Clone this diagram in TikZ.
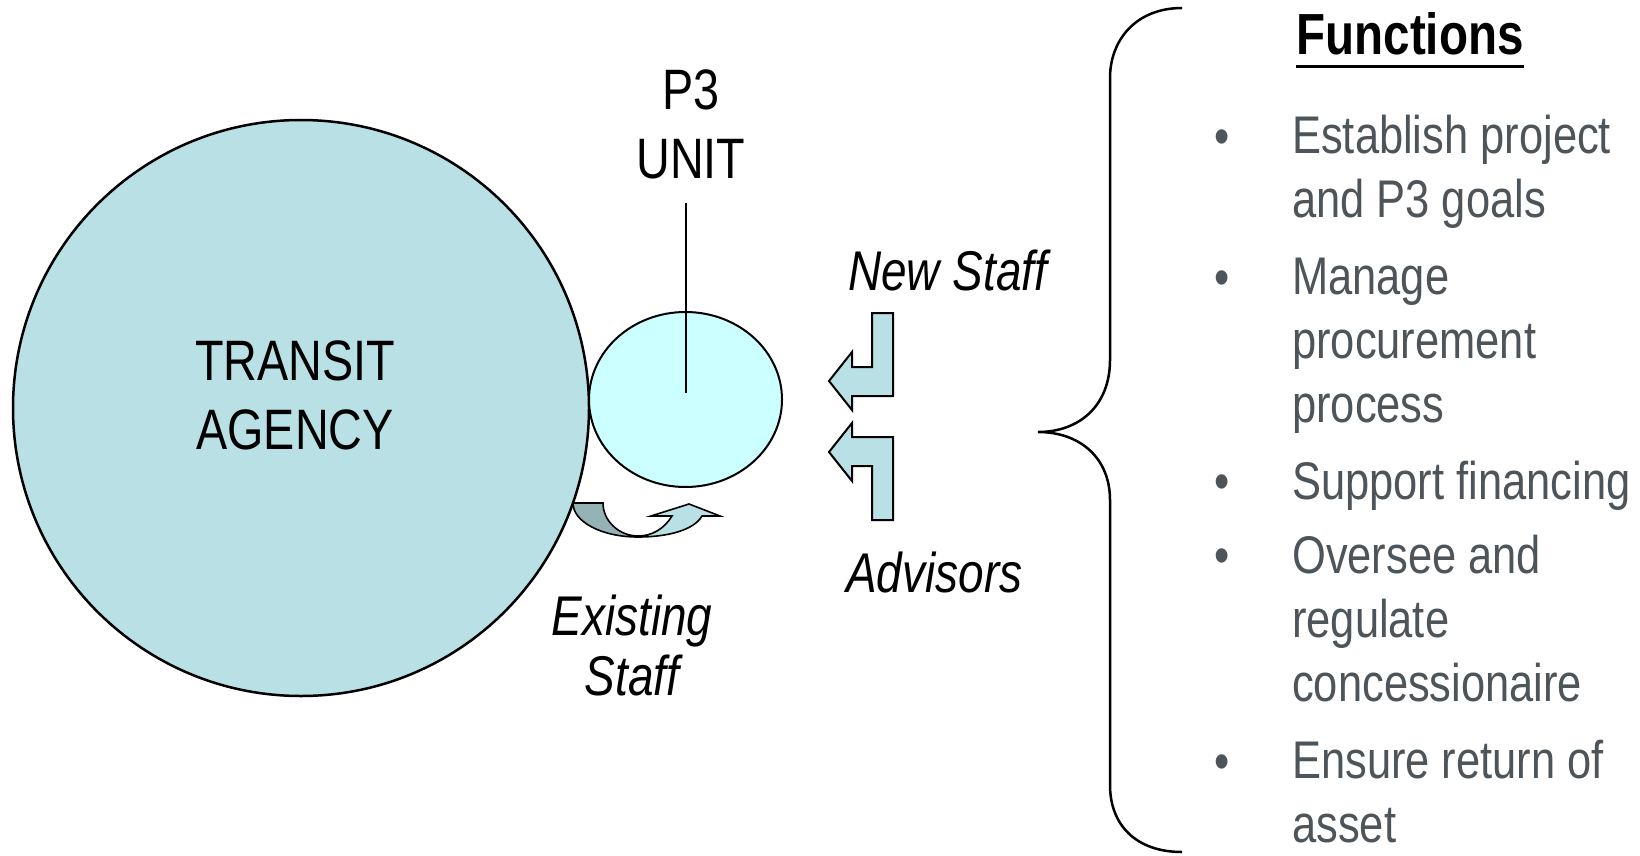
\documentclass[tikz,border=0pt]{standalone}
\usepackage{fontspec}
\setmainfont{Liberation Sans}[FakeStretch=0.82]
\usetikzlibrary{shapes.geometric, positioning}

\definecolor{agencyblue}{RGB}{185,224,228}
\definecolor{unitcyan}{RGB}{204,255,255}
\definecolor{shadeteal}{RGB}{149,178,181}
\definecolor{listgray}{RGB}{77,85,90}

\begin{document}
\begin{tikzpicture}[
                        x=1pt, y=-1pt,
                        bigtext/.style={font=\fontsize{57}{69}\selectfont, align=center, inner sep=0},
                        staff/.style={font=\fontsize{56}{60}\selectfont\itshape, align=center, inner sep=0},
                        agency/.style={circle, draw, line width=2.5pt, fill=agencyblue, minimum size=576pt, inner sep=0},
                        unit/.style={ellipse, draw, line width=2pt, fill=unitcyan, minimum width=193pt, minimum height=175pt, inner sep=0},
                        flow/.style={draw, line width=2pt, fill=agencyblue, line join=miter},
                        heading/.style={font=\fontsize{58}{64}\selectfont\bfseries, inner sep=0},
                        task/.style={font=\fontsize{53}{64}\selectfont, text=listgray, align=left, inner sep=0, anchor=base west},
                        dot/.style={font=\fontsize{53}{64}\selectfont, text=listgray, inner sep=0, anchor=base}
                        ]
  \path[use as bounding box, fill=white] (0,0) rectangle (1640,856);

  % agency and the P3 unit beside it (base = last line)
  \node[agency] (agency) at (301,408) {};
  \node[unit] (p3unit) at (685.5,399.5) {};
  \node[bigtext, anchor=base] (agencytext) at (295,449) {TRANSIT\\AGENCY};
  \node[bigtext, anchor=base] (p3text) at (691,178) {P3\\UNIT};
  \draw[line width=2pt, shorten >=7pt] ([yshift=-24pt]p3unit.center |- p3text.south) -- (p3unit.center);

  % staff moved over from the agency
  \draw[flow, line width=1.6pt, fill=shadeteal] (573,503) -- (603,503)
    .. controls (603,521) and (619,536) .. (638,536) -- (638,537)
    .. controls (602,537) and (573,522) .. (573,503) -- cycle;
  \draw[flow, line width=1.6pt] (638,537) .. controls (668,537) and (694,530) .. (702,516)
    -- (720,516) -- (689,504) -- (651,516) -- (672,516)
    .. controls (664,529) and (652,536) .. (638,536) -- cycle;
  \node[staff, anchor=base] (existing) at (632,695) {Existing\\Staff};

  % new staff and advisors coming in
  \foreach \s/\y in {1/313, -1/520}
    \draw[flow] (872,\y) -- ++(21,0) -- ++(0,83*\s) -- ++(-41,0) -- ++(0,14*\s)
      -- ++(-23,-29*\s) -- ++(23,-29*\s) -- ++(0,15*\s) -- ++(20,0) -- cycle;
  \node[staff, anchor=base west] (newstaff) at (848,290) {New Staff};
  \node[staff, anchor=base west] (advisors) at (846,592) {Advisors};

  % brace
  \draw[line width=2.5pt] (1182,8) .. controls (1136,8) and (1110,40) .. (1110,78)
    -- (1110,360) .. controls (1110,405) and (1080,432) .. (1038,432)
    .. controls (1080,432) and (1110,458) .. (1110,500)
    -- (1110,785) .. controls (1110,825) and (1136,852) .. (1182,852);

  % functions list
  \node[heading, anchor=base] (functions) at (1410,55) {Functions};
  \draw[line width=3pt] ([yshift=-12pt]functions.base west) -- ([yshift=-12pt]functions.base east);
  \node[task] (establish) at (1292,217) {Establish project\\and P3 goals};
  \node[task] (manage) at (1292,422) {Manage\\procurement\\process};
  \node[task] (support) at (1292,499) {Support financing};
  \node[task] (oversee) at (1292,701) {Oversee and\\regulate\\concessionaire};
  \node[task] (ensure) at (1292,842) {Ensure return of\\asset};
  \foreach \item/\y in {establish/154, manage/295, support/499, oversee/573, ensure/779}
    \node[dot] (dot-\item) at (1222,\y) {\textbullet};
\end{tikzpicture}
\end{document}
